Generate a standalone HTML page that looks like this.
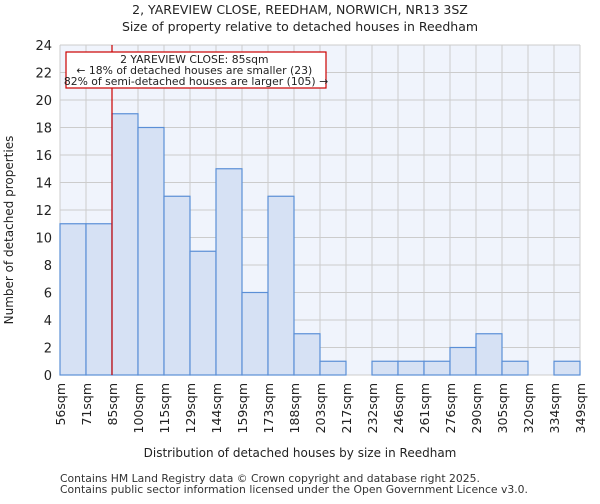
<!DOCTYPE html>
<html><head><meta charset="utf-8"><style>
body{margin:0;background:#fff;font-family:"DejaVu Sans","Liberation Sans",sans-serif;}
</style></head><body>
<svg width="600" height="500" viewBox="0 0 600 500" xmlns="http://www.w3.org/2000/svg" font-family="DejaVu Sans, Liberation Sans, sans-serif">
<text x="300" y="14" text-anchor="middle" font-size="12.5" fill="#222">2, YAREVIEW CLOSE, REEDHAM, NORWICH, NR13 3SZ</text>
<text x="300" y="31" text-anchor="middle" font-size="12.5" fill="#222">Size of property relative to detached houses in Reedham</text>
<rect x="60" y="45" width="520" height="330" fill="#f0f4fc"/>
<g id="grid"></g>
<g id="bars"></g>
<g id="axes"></g>
<line x1="112" y1="45" x2="112" y2="375" stroke="#cc0000" stroke-width="1.2"/>
<rect x="66" y="52" width="260" height="36" fill="#fff" stroke="#cc0000" stroke-width="1.2"/>
<text font-size="10.8" fill="#222" text-anchor="middle">
<tspan x="196" y="63">2 YAREVIEW CLOSE: 85sqm</tspan>
<tspan x="196" y="74">← 18% of detached houses are smaller (23)</tspan>
<tspan x="196" y="85">82% of semi-detached houses are larger (105) →</tspan>
</text>
<text x="300" y="457" text-anchor="middle" font-size="12" fill="#222">Distribution of detached houses by size in Reedham</text>
<text transform="translate(13,230) rotate(-90)" text-anchor="middle" font-size="12" fill="#222">Number of detached properties</text>
<text x="60" y="482" font-size="10.8" fill="#333">Contains HM Land Registry data © Crown copyright and database right 2025.</text>
<text x="60" y="493" font-size="10.8" fill="#333">Contains public sector information licensed under the Open Government Licence v3.0.</text>
</svg>
<script>
const tickLabels=["56sqm","71sqm","85sqm","100sqm","115sqm","129sqm","144sqm","159sqm","173sqm","188sqm","203sqm","217sqm","232sqm","246sqm","261sqm","276sqm","290sqm","305sqm","320sqm","334sqm","349sqm"];
const counts=[11,11,19,18,13,9,15,6,13,3,1,0,1,1,1,2,3,1,0,1];
const yTicks=[0,2,4,6,8,10,12,14,16,18,20,22,24];
const NS="http://www.w3.org/2000/svg";
const x0=60,x1=580,yTop=45,yBot=375,yMax=24;
const bw=(x1-x0)/counts.length;
function xs(i){return x0+i*bw;}
function ys(v){return yBot-v/yMax*(yBot-yTop);}
function mk(t,a,p){const e=document.createElementNS(NS,t);for(const k in a)e.setAttribute(k,a[k]);p.appendChild(e);return e;}
const grid=document.getElementById('grid'),bars=document.getElementById('bars'),axes=document.getElementById('axes');
yTicks.forEach(v=>{
  const l=mk('line',{x1:x0,x2:x1,y1:ys(v),y2:ys(v),stroke:'#cccccc','stroke-width':1},grid);
  
  
  const t=mk('text',{x:x0-8,y:ys(v)+5,'text-anchor':'end','font-size':13,fill:'#222'},axes);
  t.textContent=v;
  
  
});
tickLabels.forEach((s,i)=>{
  const l=mk('line',{x1:xs(i),x2:xs(i),y1:yTop,y2:yBot,stroke:'#cccccc','stroke-width':1},grid);
  
  
  const t=mk('text',{transform:`translate(${xs(i)+5},383) rotate(-90)`,'text-anchor':'end','font-size':12.5,fill:'#222'},axes);
  t.textContent=s;
  
  
});
counts.forEach((v,i)=>{
  if(v<=0)return;
  const r=mk('rect',{x:xs(i),y:ys(v),width:bw,height:yBot-ys(v),fill:'#d6e1f4',stroke:'#5b8fd6','stroke-width':1.2},bars);
  
  
});
</script>
</body></html>
